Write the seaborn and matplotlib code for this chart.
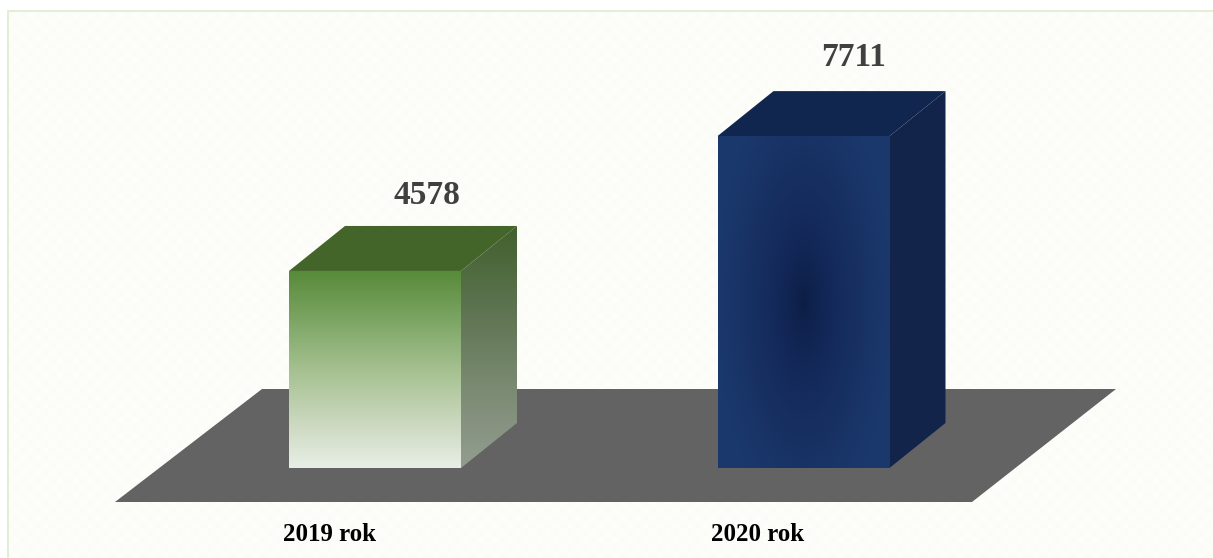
"""Two 3D-looking bars on a grey floor, 2019 vs 2020."""

import numpy as np
import matplotlib
matplotlib.use("Agg")
import matplotlib.pyplot as plt
from matplotlib.colors import LinearSegmentedColormap
from matplotlib.patches import Polygon
import seaborn as sns

years = ["2019 rok", "2020 rok"]
values = [4578, 7711]
bar_colors = ["#5a8a3c", "#1c3a70"]

W, H = 1213, 558
BASE_PX = 468          # pixel row of the bar feet
PX_PER_UNIT = 0.04304
BAR_STEP_PX = 428.5
FIRST_BAR_PX = 375
DEPTH_X_PX, DEPTH_Y_PX = 56, 45
FLOOR_PX = [(115, 502), (972, 502), (1116, 389), (262, 389)]
LABEL_OFFSET_PX = [(52, 75), (50, 79)]

sns.set_theme(style="white")
plt.rcParams["font.family"] = ["Liberation Serif", "DejaVu Serif"]

fig = plt.figure(figsize=(W / 100, H / 100), dpi=100, facecolor="white")

# page background: faint dimpled texture inside a pale green frame
bg = fig.add_axes([0, 0, 1, 1])
yy, xx = np.mgrid[0:H, 0:W]
texture = 252.6 + 1.4 * np.cos(2 * np.pi * xx / 15) * np.cos(2 * np.pi * yy / 15)
tex_rgb = np.dstack([texture, texture, texture - 3]).astype(np.uint8)
tex_rgb[:10, :] = 255
tex_rgb[:, :7] = 255
tex_rgb[10:12, 7:] = (226, 238, 214)
tex_rgb[10:, 7:9] = (226, 238, 214)
bg.imshow(tex_rgb, extent=(0, W, H, 0), aspect="auto", interpolation="nearest")
bg.axis("off")

ax = fig.add_axes([0, 0, 1, 1], facecolor="none")
sns.barplot(
    x=years, y=values, hue=years, palette=bar_colors, width=172 / BAR_STEP_PX,
    saturation=1, legend=False, linewidth=0, ax=ax,
)

xlim = (-FIRST_BAR_PX / BAR_STEP_PX, (W - FIRST_BAR_PX) / BAR_STEP_PX)
ylim = ((BASE_PX - H) / PX_PER_UNIT, BASE_PX / PX_PER_UNIT)
dx = DEPTH_X_PX / BAR_STEP_PX
dy = DEPTH_Y_PX / PX_PER_UNIT

# floor, in pixel coordinates
floor_xy = [(px / W, 1 - py / H) for px, py in FLOOR_PX]
ax.add_patch(Polygon(floor_xy, closed=True, transform=ax.transAxes,
                     facecolor="#636363", edgecolor="none", zorder=1))


def grad_fill(array, cmap, extent, clip, zorder):
    """Paint a gradient array, clipped to the given patch."""
    im = ax.imshow(array, cmap=cmap, extent=extent, aspect="auto", vmin=0, vmax=1,
                   origin="upper", interpolation="bilinear", zorder=zorder)
    im.set_clip_path(clip)


def cmap_of(*colors):
    return LinearSegmentedColormap.from_list("g", list(colors))


ramp = np.linspace(0, 1, 256).reshape(-1, 1)
u, v = np.meshgrid(np.linspace(-1, 1, 200), np.linspace(-1, 1, 200))
glow = np.clip(np.sqrt(u ** 2 + (0.75 * v) ** 2), 0, 1) ** 0.7

face_styles = [
    (ramp, cmap_of("#578a39", "#7ca564", "#a5c08f", "#c8d6bb", "#e8eee6")),
    (glow, cmap_of("#0c1d44", "#142a5b", "#1b386c")),
]
side_styles = [
    cmap_of("#41602c", "#5c7350", "#7b8a72", "#939d90"),
    cmap_of("#13244a", "#13244a"),
]
top_styles = ["#43652a", "#11264f"]

for bar, (face_arr, face_cmap), side_cmap, top_color, (off_x, off_y) in zip(
    ax.patches, face_styles, side_styles, top_styles, LABEL_OFFSET_PX
):
    x0, x1 = bar.get_x(), bar.get_x() + bar.get_width()
    h = bar.get_height()
    bar.set_zorder(3)

    top = Polygon([(x0, h), (x1, h), (x1 + dx, h + dy), (x0 + dx, h + dy)],
                  closed=True, facecolor=top_color, edgecolor="none", zorder=3)
    ax.add_patch(top)

    side = Polygon([(x1, 0), (x1 + dx, dy), (x1 + dx, h + dy), (x1, h)],
                   closed=True, facecolor="none", edgecolor="none", zorder=3)
    ax.add_patch(side)
    grad_fill(ramp, side_cmap, (x1, x1 + dx, 0, h + dy), side, 3)

    grad_fill(face_arr, face_cmap, (x0, x1, 0, h), bar, 4)

    ax.annotate(f"{h:.0f}", xy=((x0 + x1) / 2, h), xytext=(off_x * 0.72, off_y * 0.72),
                textcoords="offset points", ha="center", va="center",
                fontsize=24, fontweight="bold", color="#404040", zorder=5)

ax.set_xlim(xlim)
ax.set_ylim(ylim)
ax.set_yticks([])
ax.set_xticks(np.arange(len(years)) - 45.5 / BAR_STEP_PX)
ax.set_xticklabels(years, fontsize=18, fontweight="bold", color="black")
ax.tick_params(axis="x", length=0, pad=-25, bottom=True)
ax.set_xlabel("")
ax.set_ylabel("")
sns.despine(ax=ax, left=True, bottom=True)

fig.savefig("out.png", dpi=100)
